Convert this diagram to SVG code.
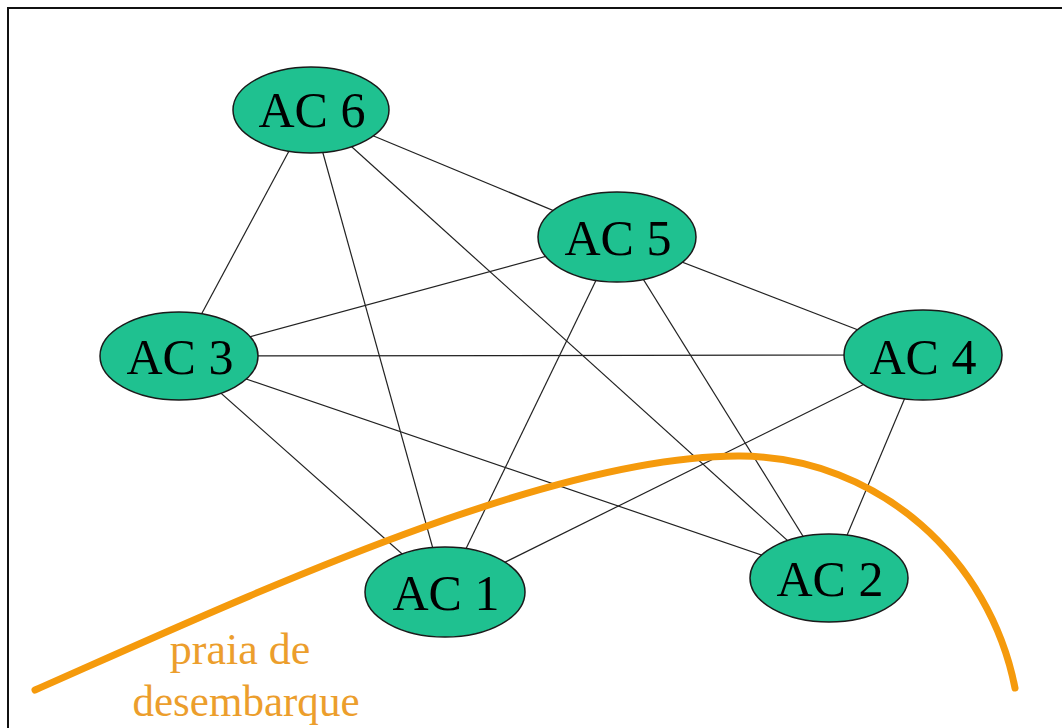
<svg xmlns="http://www.w3.org/2000/svg" width="1062" height="728" viewBox="0 0 1062 728">
  <style>
    .node ellipse { fill: #1fc190; stroke: #1a1a1a; stroke-width: 1.5; }
    .node text { font-family: "Liberation Serif", "Times New Roman", serif; font-size: 50px; fill: #000; text-anchor: middle; }
    .links line { stroke: #222; stroke-width: 1.2; }
    .beach { fill: none; stroke: #f59a0c; stroke-width: 7; stroke-linecap: round; }
    .beach-label { font-family: "Liberation Serif", "Times New Roman", serif; font-size: 44px; fill: #ec9e2c; text-anchor: middle; }
  </style>

  <rect x="0" y="0" width="1062" height="728" fill="#ffffff"/>
  <rect x="8" y="8" width="1100" height="800" fill="none" stroke="#111" stroke-width="2"/>

  <g id="connectors" class="links">
    <line x1="311" y1="110" x2="179" y2="356"/>
    <line x1="311" y1="110" x2="445" y2="592"/>
    <line x1="311" y1="110" x2="617" y2="237"/>
    <line x1="311" y1="110" x2="829" y2="578"/>
    <line x1="617" y1="237" x2="179" y2="356"/>
    <line x1="617" y1="237" x2="923" y2="355"/>
    <line x1="617" y1="237" x2="445" y2="592"/>
    <line x1="617" y1="237" x2="829" y2="578"/>
    <line x1="179" y1="356" x2="923" y2="355"/>
    <line x1="179" y1="356" x2="445" y2="592"/>
    <line x1="179" y1="356" x2="829" y2="578"/>
    <line x1="923" y1="355" x2="445" y2="592"/>
    <line x1="923" y1="355" x2="829" y2="578"/>
  </g>

  <g id="ac6" class="node">
    <ellipse cx="311" cy="110" rx="78" ry="43"/>
    <text x="312" y="127">AC 6</text>
  </g>
  <g id="ac5" class="node">
    <ellipse cx="617" cy="237" rx="79" ry="45"/>
    <text x="618" y="255">AC 5</text>
  </g>
  <g id="ac3" class="node">
    <ellipse cx="179" cy="356" rx="79" ry="44"/>
    <text x="180" y="374">AC 3</text>
  </g>
  <g id="ac4" class="node">
    <ellipse cx="923" cy="355" rx="79" ry="45"/>
    <text x="923" y="374">AC 4</text>
  </g>
  <g id="ac1" class="node">
    <ellipse cx="445" cy="592" rx="80" ry="45"/>
    <text x="446" y="610">AC 1</text>
  </g>
  <g id="ac2" class="node">
    <ellipse cx="829" cy="578" rx="79" ry="44"/>
    <text x="830" y="596">AC 2</text>
  </g>

  <g id="beach">
    <path class="beach" d="M35,690 C250,595 550,455 740,456 C880,457 990,560 1015,688"/>
    <text class="beach-label" x="240" y="664">praia de</text>
    <text class="beach-label" x="246" y="716" textLength="227" lengthAdjust="spacingAndGlyphs">desembarque</text>
  </g>
</svg>
